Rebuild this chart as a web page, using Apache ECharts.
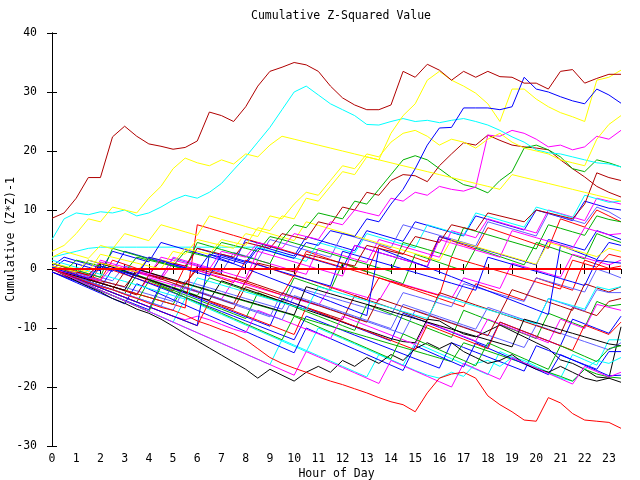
<!DOCTYPE html>
<html>
<head>
<meta charset="utf-8">
<script src="https://cdn.jsdelivr.net/npm/echarts@6/dist/echarts.min.js"></script>
<style>
  html, body { margin: 0; padding: 0; background: #fff; }
  #container { width: 640px; height: 480px; }
</style>
</head>
<body>
<div id="container"></div>
<script>
// hour of day, one sample every half hour
const hours = [0,0.5,1,1.5,2,2.5,3,3.5,4,4.5,5,5.5,6,6.5,7,7.5,8,8.5,9,9.5,10,10.5,11,11.5,
  12,12.5,13,13.5,14,14.5,15,15.5,16,16.5,17,17.5,18,18.5,19,19.5,20,20.5,21,21.5,22,22.5,23,23.5];
const yTicks = [-30,-20,-10,0,10,20,30,40];

// cumulative (Z*Z)-1 per egg
const eggTop = [8.6,9.5,12,15.5,15.5,22.4,24.2,22.5,21.2,20.8,20.3,20.6,21.7,26.6,26,25,27.5,31,33.5,34.2,35,34.6,33.5,31,29,27.8,27,27,27.8,33.5,32.5,34.7,33.7,32,33.5,32.5,33.5,32.6,32.5,31.5,31.5,30.5,33.5,33.8,31.5,32.3,33,33];
const eggBottom = [0,-0.8,-1.5,-2.3,-3,-3.5,-4.3,-5,-5.8,-6.5,-7,-7.8,-8.8,-9.5,-10.3,-11,-12,-13.5,-15,-16,-16.8,-17.5,-18.3,-19,-19.6,-20.3,-21,-21.8,-22.5,-23,-24.2,-21,-18.5,-17.8,-17.5,-18.5,-21.5,-23,-24.2,-25.6,-25.8,-21.8,-22.7,-24.5,-25.6,-25.8,-26,-27];
const eggBlueHi = [0.3,-0.4,-1,-1.6,0.5,0,-0.6,-1.2,2,1.5,0.8,0.2,-0.4,2.5,2,1.4,0.8,3.5,3,2.4,1.8,4.5,4,6.5,6,5.5,8.5,8,11,13.5,17,21,23.9,24,27.3,27.3,27.3,27,27.5,32.5,30.5,30,29.2,28.5,28,30.5,29.5,28.1];
const eggYellowHi = [0.5,0,-0.5,1.5,1,0.5,0,-0.5,2,1.5,1,3.5,3,2.5,5,4.5,4,7,6.5,9,8.5,12,11.5,14,16.5,16,19,18.5,23,26,28,32,33.5,32,31,29.8,28,25,30.5,30.5,28.8,27.5,26.5,25.8,25,32,32.5,33.7];
const eggYellow2 = [1,0.5,0,-0.5,2.5,2,1.5,1,0.5,0,3,2.5,5,4.5,4,3.5,6,5.5,9,8.5,11,13,12.5,15,17.5,17,19.5,19,21.5,23,23.5,22.5,21,22,21.5,20.5,22,23,21.5,20.5,20,19.5,18.5,18,17.5,22,24.5,26];
const eggYellow3 = [3,4,6,8.5,8,10.5,10,9.5,12,14,17,18.8,18,17.5,18.5,17.8,19.5,19,21,22.5,22,21.5,21,20.5,20,19.5,19,18.5,18,17.5,17,16.5,16,15.5,15,14.5,14,13.5,16,15.5,15,14.5,14,13.5,13,12.5,12,11.5];
const eggCyanHi = [5,8.5,9.5,9.2,9.7,9.5,10,9,9.5,10.5,11.7,12.5,12,13,14.5,16.8,19,21.5,24,27,30,31,29.5,28,27,26,24.5,24.4,25,25.5,25,25.2,24.8,25.2,25.5,25,24.4,23.5,22.4,21.5,20.2,19.7,19.5,19,18.5,18,17.8,17.3];
const eggMagentaHi = [0,-0.5,-1,-1.5,-2,0.5,0,-0.5,-1,2,1.5,1,0.5,0,3,2.5,2,4.5,4,3.5,6,5.5,5,8,7.5,10,9.5,9,12,11.5,13,12.5,14,13.5,13.2,13.9,22.7,22.5,23.5,23,22,20.7,21,20.2,20.7,22.5,22,23.5];
const eggGreenHi = [0,-0.5,1.5,1,0.5,0,-0.5,2,1.5,1,0.5,3,2.5,2,4.5,4,3.5,3,5.5,5,7.5,7,9.5,9,8.5,11.5,11,13.5,16,18.5,19.2,18.5,17,15.5,14.3,13.8,12.9,15,16.5,20.5,21,20.2,19,17,16.5,18.5,18,17.3];
const eggBrown1 = [0.5,0,-0.5,-1,1,0.5,0,-0.5,-1,1.5,1,0.5,3.5,3,2.5,2,4.5,4,3.5,6,5.5,5,8,7.5,10.5,10,13,12.5,15,16,15.8,14.8,17.5,19.5,21.4,21,22.7,21.8,21,20.7,20.5,20.2,18.5,17,15.6,14,13,12.2];
const eggBrown2 = [0,-0.5,-1,-1.5,-2,-2.5,-3,-0.5,-1,-1.5,-2,-2.5,0,-0.5,-1,-1.5,-2,1,0.5,0,-0.5,2.5,2,1.5,1,0.5,4,3.5,3,2.5,5.5,5,4.5,7.5,7,6.5,9.5,9,8.5,8,10,9.5,9,8.5,11,16.3,15.5,15];
const egg01 = [0,-0.6,-1.2,1.5,0.9,0.3,-0.3,-0.9,2,1.4,0.8,0.2,3.5,2.9,2.3,1.7,1.1,4,3.4,2.8,2.2,5.5,4.9,4.3,3.7,3.1,6.5,5.9,5.3,4.7,8,7.4,6.8,6.2,5.6,9,8.4,7.8,7.2,6.6,10,9.4,8.8,8.2,11.5,10.9,10.3,10];
const egg02 = [1,0.4,-0.2,-0.8,-1.4,-2,0.5,-0.1,-0.7,-1.3,1.8,1.2,0.6,0,-0.6,2.8,2.2,1.6,5,4.4,3.8,3.2,2.6,2,6,5.4,4.8,4.2,3.6,7.5,6.9,6.3,5.7,5.1,4.5,3.9,8,7.4,6.8,6.2,5.6,9.5,8.9,8.3,7.7,10.5,9.7,8.5];
const egg03 = [-0.5,-1.2,-1.9,-2.6,0.5,-0.2,-0.9,-1.6,-2.3,-3,-3.7,0.5,-0.2,-0.9,-1.6,-2.3,1.5,0.8,0.1,-0.6,-1.3,3,2.3,1.6,0.9,0.2,-0.5,4,3.3,2.6,1.9,1.2,5.5,4.8,4.1,3.4,7,6.3,5.6,4.9,4.2,3.5,8.5,7.8,7.1,10,9,8];
const egg04 = [0.5,0,-0.6,-1.2,1.2,0.6,0,-0.6,-1.2,-1.8,1,0.4,-0.2,-0.8,-1.4,-2,-2.6,1.5,0.9,0.3,-0.3,-0.9,3.5,2.9,2.3,1.7,1.1,5,4.4,3.8,3.2,2.6,2,6.5,5.9,5.3,8.5,7.9,7.3,6.7,6.1,10,9.4,8.8,8.2,12,11.5,11];
const egg05 = [2,2.5,3,3.5,3.7,3.7,3.7,3.7,3.7,3.7,3.7,3.7,3.7,3.7,3.7,3.7,3.7,3.7,3.1,2.5,1.9,1.3,4.5,3.9,3.3,2.7,6,5.4,4.8,4.2,3.6,7.5,6.9,6.3,5.7,9.5,8.9,8.3,7.7,7.1,10.5,9.9,9.3,8.7,12.5,11.9,11.3,11.5];
const egg06 = [0,1.5,0.9,0.3,-0.3,3,2.4,1.8,1.2,4.5,3.9,3.3,2.7,2.1,1.5,0.9,5,4.4,3.8,3.2,2.6,2,1.4,0.8,0.2,4,3.4,2.8,2.2,1.6,1,0.4,5.5,4.9,4.3,3.7,3.1,2.5,1.9,1.3,0.7,5,4.4,3.8,3.2,6.5,5.8,5];
const egg07 = [0,-0.7,-1.4,-2.1,-2.8,-3.5,-4.2,-1,-1.7,-2.4,-3.1,-3.8,-4.5,-1.5,-2.2,-2.9,-3.6,-4.3,-5,-5.7,-1.5,-2.2,-2.9,-3.6,1,0.3,-0.4,-1.1,-1.8,-2.5,2.5,1.8,1.1,0.4,-0.3,3.5,2.8,2.1,1.4,0.7,4.5,3.8,3.1,2.4,1.7,6,5.2,4.5];
const egg08 = [0,-0.6,-1.2,-1.8,-2.4,-3,-3.6,-4.2,-1.5,-2.1,-2.7,-3.3,-3.9,-4.5,-5.1,-2,-2.6,-3.2,-3.8,-4.4,-5,-5.6,-6.2,-3,-3.6,-4.2,-4.8,-5.4,-2,-2.6,-3.2,-3.8,-4.4,-5,-1.5,-2.1,-2.7,-3.3,1,0.4,-0.2,-0.8,-1.4,2.5,1.9,1.3,0.7,1.5];
const egg09 = [1,0.3,-0.4,-1.1,-1.8,1.5,0.8,0.1,-0.6,-1.3,-2,-2.7,0.5,-0.2,-0.9,-1.6,-2.3,-3,-3.7,-4.4,-1,-1.7,-2.4,-3.1,-3.8,-4.5,-5.2,-1.5,-2.2,-2.9,-3.6,-4.3,-5,-5.7,-6.4,-2.5,-3.2,-3.9,-4.6,-5.3,-1.5,-2.2,-2.9,-3.6,1.5,0.8,0.1,0.5];
const egg10 = [0.5,-0.1,-0.7,-1.3,-1.9,-2.5,-3.1,-3.7,-4.3,-4.9,-5.5,-2,-2.6,-3.2,-3.8,-4.4,-5,-5.6,-6.2,-6.8,-3,-3.6,-4.2,-4.8,-5.4,-6,-6.6,-7.2,-7.8,-4,-4.6,-5.2,-5.8,-6.4,-2.5,-3.1,-3.7,-4.3,-4.9,-5.5,-1.5,-2.1,-2.7,-3.3,-3.9,0,-0.7,-1.5];
const egg11 = [0,-0.7,-1.4,-2.1,-2.8,-3.5,-0.5,-1.2,-1.9,-2.6,-3.3,-4,-4.7,-5.4,-6.1,-6.8,-3,-3.7,-4.4,-5.1,-5.8,-6.5,-7.2,-7.9,-8.6,-4.5,-5.2,-5.9,-6.6,-7.3,-8,-8.7,-4,-4.7,-5.4,-6.1,-6.8,-7.5,-3.5,-4.2,-4.9,-5.6,-6.3,-7,-2.5,-3.2,-3.9,-3];
const egg12 = [0,-0.8,-1.6,-2.4,-3.2,-4,-4.8,-5.6,-2,-2.8,-3.6,-4.4,-5.2,-6,-6.8,-7.6,-8.4,-4,-4.8,-5.6,-6.4,-7.2,-8,-8.8,-9.6,-10.4,-6,-6.8,-7.6,-8.4,-9.2,-10,-10.8,-11.6,-7,-7.8,-8.6,-9.4,-10.2,-11,-11.8,-7.5,-8.3,-9.1,-9.9,-5.5,-6.3,-6];
const egg13 = [-0.5,-1.3,-2.1,-2.9,-3.7,-4.5,-5.3,-6.1,-6.9,-2.5,-3.3,-4.1,-4.9,-5.7,-6.5,-7.3,-8.1,-8.9,-9.7,-5,-5.8,-6.6,-7.4,-8.2,-9,-9.8,-10.6,-11.4,-12.2,-7.5,-8.3,-9.1,-9.9,-10.7,-11.5,-12.3,-13.1,-9,-9.8,-10.6,-11.4,-12.2,-13,-8.5,-9.3,-10.1,-10.9,-8];
const egg14 = [0,-0.9,-1.8,-2.7,-3.6,-4.5,-5.4,-6.3,-7.2,-8.1,-9,-5,-5.9,-6.8,-7.7,-8.6,-9.5,-10.4,-11.3,-12.2,-13.1,-14,-10,-10.9,-11.8,-12.7,-13.6,-14.5,-15.4,-16.3,-12.5,-13.4,-14.3,-15.2,-16.1,-17,-17.9,-14,-14.9,-15.8,-16.7,-17.6,-18.5,-14.5,-15.4,-16.3,-12,-12];
const egg15 = [0,-0.7,-1.4,-2.1,1,0.3,-0.4,-1.1,-1.8,-2.5,-3.2,-3.9,-4.6,-5.3,-2,-2.7,-3.4,-4.1,-4.8,-5.5,-6.2,-6.9,-7.6,-8.3,-9,-9.7,-10.4,-11.1,-11.8,-12.3,-12.5,-8.5,-8.8,-10,-11,-11.5,-10.5,-9.5,-10.5,-11.5,-12.5,-13.5,-15.4,-16,-17,-18.3,-18.5,-9.8];
const egg16 = [0,-0.8,-1.6,-2.4,-3.2,0,-0.8,-1.6,-2.4,-3.2,-4,-4.8,-5.6,-6.4,-7.2,-8,-8.8,-9.6,-10.4,-11.2,-12,-8,-8.8,-9.6,-10.4,-11.2,-12,-12.8,-13.6,-14.4,-15.2,-16,-16.8,-12.5,-13.3,-14.1,-14.9,-15.7,-16.5,-17.3,-13,-13.8,-14.6,-15.4,-16.2,-17,-14,-14];
const egg17 = [0,-0.9,-1.8,-2.7,-3.6,-4.5,-5.4,-6.3,-7.2,-8.1,-9,-9.9,-10.8,-11.7,-12.6,-13.5,-14.4,-15.3,-16.2,-12,-12.9,-13.8,-14.7,-15.6,-16.5,-17.4,-18.3,-14.5,-15.4,-16.3,-17.2,-18,-18.5,-17.5,-18.2,-16,-15.5,-16.5,-15,-15.5,-16.5,-17.5,-18.5,-19,-17,-15.5,-16,-15];
const egg18 = [0,-0.6,-1.2,-1.8,-2.4,-3,-3.6,-4.2,-4.8,-5.4,-6,-2.5,-3.1,-3.7,-4.3,-4.9,-5.5,-6.1,-6.7,-7.3,-7.9,-8.5,-9.1,-9.7,-10.3,-10.9,-11.5,-12.1,-12.7,-13.3,-13.9,-14.5,-15.1,-15.7,-12.5,-13.2,-13.9,-14.6,-15.3,-16,-16.8,-17.5,-18.2,-19,-17,-17.8,-18.3,-18.5];
const egg19 = [-0.5,-1.4,-2.3,-3.2,-4.1,-5,-5.9,-2.5,-3.4,-4.3,-5.2,-6.1,-7,-7.9,-8.8,-9.7,-10.6,-11.5,-12.4,-13.3,-14.2,-10,-10.9,-11.8,-12.7,-13.6,-14.5,-15.4,-16.3,-17.2,-13,-13.9,-14.8,-15.7,-16.6,-12.5,-13.4,-14.3,-15.2,-16.1,-17,-17.9,-14.5,-15.4,-16.3,-17.2,-18.1,-18];
const egg20 = [0,-0.8,-1.6,-2.4,-3.2,-4,-4.8,-5.6,-6.4,-7.2,-8,-8.6,-8,-8.6,-9.4,-10.2,-10.8,-7,-7.8,-8.6,-9.4,-10.2,-11,-11.8,-8,-8.8,-9.6,-10.4,-11.2,-12,-12.8,-9,-9.8,-10.6,-11.4,-12.2,-8.5,-9.3,-10.1,-10.9,-11.7,-12.5,-8.5,-9.3,-10.1,-6,-6.5,-7];
const egg21 = [0,-0.7,-1.4,-2.1,-2.8,-3.5,-4.2,-4.9,-5.6,-6.3,-2.5,-3.2,-3.9,-4.6,-5.3,-6,-6.7,-7.4,-8.1,-4,-4.7,-5.4,-6.1,-6.8,-7.5,-8.2,-8.9,-9.6,-10.3,-11,-7,-7.7,-8.4,-9.1,-9.8,-10.5,-11.2,-11.9,-12.6,-13.3,-9.5,-10.2,-10.9,-11.6,-12.3,-13,-13.7,-12.5];
const egg22 = [0.5,-0.2,-0.9,-1.6,-2.3,-3,-3.7,-4.4,-1,-1.7,-2.4,-3.1,-3.8,-4.5,-5.2,-5.9,-2,-2.7,-3.4,-4.1,-4.8,-5.5,-6.2,-6.9,-7.6,-8.3,-9,-5,-5.7,-6.4,-7.1,-7.8,-8.5,-9.2,-9.9,-10.6,-11.3,-7.5,-8.2,-8.9,-9.6,-10.3,-11,-6.5,-7.2,-7.9,-5.5,-5];
const egg23 = [0,-1,-2,-3,-3.9,-5,-5.8,-6.8,-7.5,-8.5,-9.7,-11,-12.2,-13.4,-14.6,-15.8,-17,-18.5,-17,-18,-19,-17.5,-16.5,-17.5,-15.5,-16.5,-15,-16,-14.5,-15.5,-13.5,-12.5,-13.5,-12.5,-14,-15,-16,-15.5,-14.5,-16,-17,-17.5,-16.5,-17.5,-18.5,-19,-18.5,-19.2];
const egg24 = [0,-0.6,-1.2,-1.8,-2.4,-3,-3.6,-4.2,-4.8,-5.4,-6,-6.6,7.5,6.9,6.3,5.7,5.1,4.5,3.9,3.3,2.7,2.1,1.5,0.9,0.3,-0.3,-0.9,-1.5,-2.1,-2.7,-3.3,-3.9,-4.5,2,1.4,0.8,0.2,-0.4,-1,-1.6,-2.2,-2.8,-3.4,1.5,0.9,0.3,2.5,2];
const egg25 = [0.5,2,1.4,0.8,0.2,-0.4,3,2.4,1.8,1.2,0.6,0,-0.6,-1.2,2.5,1.9,1.3,0.7,0.1,-0.5,-1.1,-1.7,-2.3,-2.9,3,2.4,1.8,1.2,0.6,0,-0.6,-1.2,-1.8,-2.4,-3,-3.6,2,1.4,0.8,0.2,-0.4,-1,-1.6,-2.2,-2.8,1.5,1.2,1];
const egg26 = [1,0.4,-0.2,-0.8,-1.4,3.5,2.9,2.3,1.7,1.1,0.5,-0.1,4.5,3.9,3.3,2.7,2.1,1.5,0.9,5,4.4,3.8,3.2,2.6,2,1.4,0.8,0.2,-0.4,4.5,3.9,3.3,2.7,2.1,7,6.4,5.8,5.2,4.6,4,3.4,7.5,6.9,6.3,5.7,9,8.4,8];
const egg27 = [0,-0.7,-1.4,-2.1,-2.8,-3.5,-4.2,-4.9,-5.6,-6.3,-7,-3,-3.7,-4.4,-5.1,-5.8,-6.5,-7.2,-7.9,-8.6,-4.5,-5.2,-5.9,-6.6,-7.3,-8,-8.7,-9.4,-10.1,-6,-6.7,-7.4,-8.1,-8.8,-9.5,-10.2,-6.5,-7.2,-7.9,-8.6,-9.3,-5,-5.7,-6.4,-7.1,-3.5,-4,-4];
const egg28 = [0,-0.8,-1.6,-2.4,-3.2,-4,-4.8,-5.6,-6.4,-7.2,-8,-8.8,-9.6,-5.5,-6.3,-7.1,-7.9,-8.7,-9.5,-10.3,-11.1,-6.5,-7.3,-8.1,-8.9,-9.7,-10.5,-11.3,-12.1,-12.9,-13.7,-9.5,-10.3,-11.1,-11.9,-12.7,-13.5,-9,-9.8,-10.6,-11.4,-12.2,-13,-13.8,-9.5,-10.3,-11.1,-9];
const egg29 = [0,-0.6,-1.2,-1.8,1.5,0.9,0.3,-0.3,-0.9,-1.5,2,1.4,0.8,0.2,-0.4,-1,-1.6,3,2.4,1.8,1.2,0.6,0,-0.6,-1.2,4,3.4,2.8,2.2,1.6,1,0.4,5,4.4,3.8,3.2,2.6,2,6.5,5.9,5.3,4.7,4.1,3.5,7,6.4,5.8,6];
const egg30 = [1.5,0.9,0.3,-0.3,-0.9,-1.5,-2.1,-2.7,-3.3,-3.9,-4.5,-5.1,-1.5,-2.1,-2.7,-3.3,-3.9,-4.5,-5.1,-5.7,-6.3,-6.9,-3,-3.6,-4.2,-4.8,-5.4,-6,-6.6,-7.2,-7.8,-8.4,-4.5,-5.1,-5.7,-6.3,-6.9,-7.5,-8.1,-8.7,-9.3,-5,-5.6,-6.2,-6.8,-3,-3.5,-3];
const egg31 = [0,-0.8,-1.6,-2.4,-3.2,-4,-4.8,-5.6,-6.4,-7.2,-8,-8.8,-9.6,2.5,1.7,0.9,0.1,-0.7,-1.5,-2.3,-3.1,-3.9,-4.7,-5.5,-6.3,-7.1,-7.9,3.5,2.7,1.9,1.1,0.3,-0.5,-1.3,-2.1,-2.9,-3.7,-4.5,-5.3,-6.1,-6.9,-7.7,4,3.2,2.4,1.6,4.5,4];
const egg32 = [0,-0.6,-1.2,-1.8,-2.4,-3,-3.6,0,-0.6,-1.2,-1.8,-2.4,-3,-3.6,-4.2,-4.8,-5.4,-6,-6.6,-7.2,-7.8,-3,-3.6,-4.2,-4.8,-5.4,-6,-6.6,-7.2,-7.8,-8.4,-9,-9.6,-10.2,-10.8,-11.4,-12,-12.6,-13.2,-8.5,-9.1,-9.7,-10.3,-10.9,-11.5,-12.1,-12.7,-13];
const egg33 = [2,3,2.4,1.8,4,3.4,6,5.4,4.8,7.5,6.9,6.3,5.7,9,8.4,7.8,7.2,6.6,6,5.4,4.8,8,7.4,6.8,6.2,5.6,5,4.4,3.8,3.2,2.6,2,1.4,5,4.4,3.8,3.2,2.6,2,1.4,0.8,4.5,3.9,3.3,2.7,2.1,3.5,3];
const egg34 = [0,-0.9,-1.8,-2.7,-3.6,-4.5,-5.4,-6.3,-7.2,-3,-3.9,-4.8,-5.7,-6.6,-7.5,-8.4,-9.3,-10.2,-11.1,-12,-8,-8.9,-9.8,-10.7,-11.6,-12.5,-13.4,-14.3,-15.2,-11,-11.9,-12.8,-13.7,-14.6,-15.5,-16.4,-12.5,-13.4,-14.3,-15.2,-16.1,-17,-13,-13.9,-14.8,-15.7,-13.5,-13];
const egg35 = [0,-0.9,-1.8,-2.7,-3.6,-4.5,-5.4,-6.3,-7.2,-8.1,-9,-9.9,-10.8,-11.7,-12.6,-13.5,-14.4,-15.3,-16.2,-17.1,-18,-14,-14.9,-15.8,-16.7,-17.6,-18.5,-19.4,-15.5,-16.4,-17.3,-18.2,-19.1,-20,-16,-16.9,-17.8,-18.7,-15,-15.9,-16.8,-17.7,-18.6,-19.5,-16.5,-17.4,-18.3,-17.5];

// line colours (gnuplot-like pens)
const pens = {
  red: '#ff0000', green: '#00b000', blue: '#0000ff', magenta: '#ff00ff', cyan: '#00ffff',
  brown: '#b00000', yellow: '#ffff00', black: '#000000', slate: '#6060ff'
};
const eggs = [
  [egg01, 'blue'], [egg02, 'slate'], [egg03, 'red'], [egg04, 'magenta'], [egg05, 'cyan'],
  [egg06, 'blue'], [egg07, 'green'], [egg08, 'magenta'], [egg09, 'red'], [egg10, 'slate'],
  [egg11, 'brown'], [egg12, 'green'], [egg13, 'blue'], [egg14, 'cyan'], [egg15, 'black'],
  [egg16, 'blue'], [egg17, 'cyan'], [egg18, 'green'], [egg19, 'blue'], [egg20, 'magenta'],
  [egg21, 'slate'], [egg22, 'brown'], [egg23, 'black'], [egg24, 'red'], [egg25, 'blue'],
  [egg26, 'green'], [egg27, 'slate'], [egg28, 'red'], [egg29, 'magenta'], [egg30, 'cyan'],
  [egg31, 'blue'], [egg32, 'black'], [egg33, 'yellow'], [egg34, 'green'], [egg35, 'magenta'],
  [eggBrown2, 'brown'], [eggBrown1, 'brown'], [eggGreenHi, 'green'], [eggMagentaHi, 'magenta'],
  [eggCyanHi, 'cyan'], [eggYellow3, 'yellow'], [eggYellow2, 'yellow'], [eggYellowHi, 'yellow'],
  [eggBlueHi, 'blue'], [eggBottom, 'red'], [eggTop, 'brown']
];

const font = 'DejaVu Sans Mono';
const graph = echarts.init(document.getElementById('container'));

const series = eggs.map(([vals, pen], i) => ({
  name: 'egg' + i,
  type: 'line',
  data: hours.map((h, k) => [h, vals[k]]),
  showSymbol: false,
  symbol: 'none',
  silent: true,
  lineStyle: { color: pens[pen], width: 1 },
}));
// the red zero line on top
series.push({
  type: 'line',
  data: [],
  z: 5,
  markLine: {
    silent: true,
    symbol: 'none',
    label: { show: false },
    lineStyle: { color: '#ff0000', width: 2, type: 'solid' },
    data: [{ yAxis: 0 }],
  },
});

const xBase = {
  type: 'value',
  min: hours[0],
  max: hours[hours.length - 1],
  interval: 1,
  splitLine: { show: false },
  axisLine: { lineStyle: { color: '#000', width: 1 } },
  axisTick: { inside: true, length: 5, lineStyle: { color: '#000' } },
};
const yBase = {
  type: 'value',
  min: yTicks[0],
  max: yTicks[yTicks.length - 1],
  interval: 10,
  splitLine: { show: false },
  axisLine: { show: true, lineStyle: { color: '#000', width: 1 } },
  axisTick: { show: true, inside: true, length: 5, lineStyle: { color: '#000' } },
};

option = {
  animation: false,
  backgroundColor: '#fff',
  title: {
    text: 'Cumulative Z-Squared Value',
    left: 246,
    top: 5,
    textStyle: { fontFamily: font, fontSize: 11.5, fontWeight: 'normal', color: '#000' },
  },
  grid: { left: 52, right: 19, top: 33, bottom: 34, containLabel: false, outerBoundsMode: 'none' },
  xAxis: [
    Object.assign({}, xBase, {
      position: 'bottom',
      name: 'Hour of Day',
      nameLocation: 'middle',
      nameGap: 22,
      nameMoveOverlap: false,
      nameTextStyle: { fontFamily: font, fontSize: 11.5, color: '#000' },
      axisLabel: {
        fontFamily: font, fontSize: 11.5, color: '#000', margin: 7,
        showMaxLabel: false,
        formatter: (v) => (Number.isInteger(v) ? String(v) : ''),
      },
    }),
    Object.assign({}, xBase, { position: 'top', axisLabel: { show: false } }),
  ],
  yAxis: [
    Object.assign({}, yBase, {
      position: 'left',
      name: 'Cumulative (Z*Z)-1',
      nameLocation: 'middle',
      nameGap: 35,
      nameRotate: 90,
      nameMoveOverlap: false,
      nameTextStyle: { fontFamily: font, fontSize: 11.5, color: '#000' },
      axisLabel: { fontFamily: font, fontSize: 11.5, color: '#000', margin: 15 },
    }),
    Object.assign({}, yBase, { position: 'right', axisLabel: { show: false } }),
  ],
  series: series,
};

graph.setOption(option);
</script>
</body>
</html>
